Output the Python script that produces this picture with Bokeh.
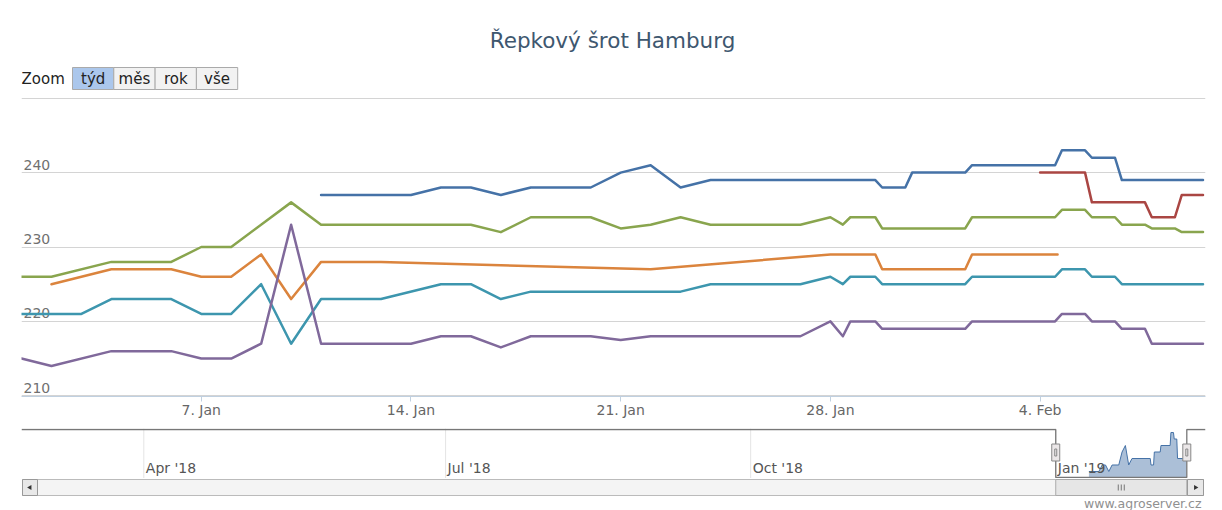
import pandas as pd
from bokeh.plotting import figure
from bokeh.layouts import column
from bokeh.models import Range1d, FixedTicker, Grid
from bokeh.core.properties import value
from bokeh.embed import file_html
from bokeh.resources import INLINE

# ---------------- texts ----------------
TITLE = "Řepkový šrot Hamburg"
ZOOM_LABEL = "Zoom"
ZOOM_BUTTONS = ["týd", "měs", "rok", "vše"]
SELECTED_BUTTON = 0
CREDITS = "www.agroserver.cz"

# ---------------- axes ----------------
X_TICK_DATES = ["2019-01-07", "2019-01-14", "2019-01-21", "2019-01-28", "2019-02-04"]
X_TICK_LABELS = ["7. Jan", "14. Jan", "21. Jan", "28. Jan", "4. Feb"]
Y_TICKS = [210, 220, 230, 240, 250]
NAV_TICK_DATES = ["2018-04-01", "2018-07-01", "2018-10-01", "2019-01-01"]
NAV_TICK_LABELS = ["Apr '18", "Jul '18", "Oct '18", "Jan '19"]
VIEW_START = "2019-01-01 00:00"
VIEW_END = "2019-02-09 12:30"
NAV_START = "2018-02-23 02:40"
NAV_END = "2019-02-15 03:50"
NAV_Y = (235.92, 243.62)

# ---------------- series ----------------
blue_dates = ["2019-01-11", "2019-01-14", "2019-01-15", "2019-01-16", "2019-01-17", "2019-01-18",
              "2019-01-20", "2019-01-21", "2019-01-22", "2019-01-23", "2019-01-24",
              "2019-01-29 12:00", "2019-01-29 17:30", "2019-01-30 12:00", "2019-01-30 17:30",
              "2019-02-01 12:00", "2019-02-01 17:30", "2019-02-04 12:00", "2019-02-04 17:30",
              "2019-02-05 12:00", "2019-02-05 17:30", "2019-02-06 12:00", "2019-02-06 17:30",
              "2019-02-09 10:30"]
blue_values = [237, 237, 238, 238, 237, 238, 238, 240, 241, 238, 239, 239, 238, 238, 240, 240,
               241, 241, 243, 243, 242, 242, 239, 239]

red_dates = ["2019-02-04", "2019-02-05 12:00", "2019-02-05 17:30", "2019-02-07 12:00",
             "2019-02-07 17:30", "2019-02-08 12:00", "2019-02-08 17:30", "2019-02-09 10:30"]
red_values = [240, 240, 236, 236, 234, 234, 237, 237]

green_dates = ["2019-01-01", "2019-01-02", "2019-01-04", "2019-01-06", "2019-01-07", "2019-01-08",
               "2019-01-10", "2019-01-11", "2019-01-16", "2019-01-17", "2019-01-18", "2019-01-20",
               "2019-01-21", "2019-01-22", "2019-01-23", "2019-01-24", "2019-01-27",
               "2019-01-28 00:00", "2019-01-28 10:00", "2019-01-28 16:00",
               "2019-01-29 12:00", "2019-01-29 17:30", "2019-02-01 12:00", "2019-02-01 17:30",
               "2019-02-04 12:00", "2019-02-04 17:30", "2019-02-05 12:00", "2019-02-05 17:30",
               "2019-02-06 12:00", "2019-02-06 17:30", "2019-02-07 12:00", "2019-02-07 17:30",
               "2019-02-08 12:00", "2019-02-08 17:30", "2019-02-09 10:30"]
green_values = [226, 226, 228, 228, 230, 230, 236, 233, 233, 232, 234, 234, 232.5, 233, 234, 233,
                233, 234, 233, 234, 234, 232.5, 232.5, 234, 234, 235, 235, 234, 234, 233, 233,
                232.5, 232.5, 232, 232]

orange_dates = ["2019-01-02", "2019-01-04", "2019-01-06", "2019-01-07", "2019-01-08", "2019-01-09",
                "2019-01-10", "2019-01-11", "2019-01-13", "2019-01-22", "2019-01-28",
                "2019-01-29 12:00", "2019-01-29 17:30", "2019-02-01 12:00", "2019-02-01 17:30",
                "2019-02-04 14:00"]
orange_values = [225, 227, 227, 226, 226, 229, 223, 228, 228, 227, 229, 229, 227, 227, 229, 229]

teal_dates = ["2019-01-01", "2019-01-03", "2019-01-04", "2019-01-06", "2019-01-07", "2019-01-08",
              "2019-01-09", "2019-01-10", "2019-01-11", "2019-01-13", "2019-01-15", "2019-01-16",
              "2019-01-17", "2019-01-18", "2019-01-23", "2019-01-24", "2019-01-27",
              "2019-01-28 00:00", "2019-01-28 10:00", "2019-01-28 16:00",
              "2019-01-29 12:00", "2019-01-29 17:30", "2019-02-01 12:00", "2019-02-01 17:30",
              "2019-02-04 12:00", "2019-02-04 17:30", "2019-02-05 12:00", "2019-02-05 17:30",
              "2019-02-06 12:00", "2019-02-06 17:30", "2019-02-09 10:30"]
teal_values = [221, 221, 223, 223, 221, 221, 225, 217, 223, 223, 225, 225, 223, 224, 224, 225,
               225, 226, 225, 226, 226, 225, 225, 226, 226, 227, 227, 226, 226, 225, 225]

purple_dates = ["2019-01-01", "2019-01-02", "2019-01-04", "2019-01-06", "2019-01-07", "2019-01-08",
                "2019-01-09", "2019-01-10", "2019-01-11", "2019-01-14", "2019-01-15", "2019-01-16",
                "2019-01-17", "2019-01-18", "2019-01-20", "2019-01-21", "2019-01-22", "2019-01-27",
                "2019-01-28 00:00", "2019-01-28 10:00", "2019-01-28 16:00",
                "2019-01-29 12:00", "2019-01-29 17:30", "2019-02-01 12:00", "2019-02-01 17:30",
                "2019-02-04 12:00", "2019-02-04 17:30", "2019-02-05 12:00", "2019-02-05 17:30",
                "2019-02-06 12:00", "2019-02-06 17:30", "2019-02-07 12:00", "2019-02-07 17:30",
                "2019-02-09 10:30"]
purple_values = [215, 214, 216, 216, 215, 215, 217, 233, 217, 217, 218, 218, 216.5, 218, 218,
                 217.5, 218, 218, 220, 218, 220, 220, 219, 219, 220, 220, 221, 221, 220, 220,
                 219, 219, 217, 217]

SERIES = [
    (blue_dates, blue_values, "#4572A7"),
    (red_dates, red_values, "#AA4643"),
    (green_dates, green_values, "#89A54E"),
    (orange_dates, orange_values, "#DB843D"),
    (teal_dates, teal_values, "#3D96AE"),
    (purple_dates, purple_values, "#80699B"),
]
NAV_SERIES = (blue_dates, blue_values, "#4572A7")

FONT = "DejaVu Sans"
W = 1222
FRAME_L, FRAME_R = 21, 1205          # plot area, page pixels
BL, BR = FRAME_L, W - FRAME_R


def ms(dates):
    full = [d if " " in d else d + " 00:00" for d in dates]
    return (pd.to_datetime(full, format="%Y-%m-%d %H:%M").astype("int64") / 1e6).tolist()


view_start, view_end = ms([VIEW_START, VIEW_END])
nav_start, nav_end = ms([NAV_START, NAV_END])


def bare(fig):
    fig.outline_line_color = None
    fig.background_fill_color = "white"
    fig.border_fill_color = "white"
    for g in fig.grid:
        g.visible = False


# ---------------- header: title + range selector (page pixel coordinates) ----------------
HDR_H = 93
hdr = figure(width=W, height=HDR_H, x_range=Range1d(FRAME_L, FRAME_R), y_range=Range1d(HDR_H, 0),
             x_axis_location=None, y_axis_location=None,
             min_border_left=BL, min_border_right=BR, min_border_top=0, min_border_bottom=0,
             output_backend="svg", toolbar_location=None)
bare(hdr)
hdr.text(x=[612], y=[40], text=[TITLE], text_align="center", text_baseline="middle",
         text_font=value(FONT), text_font_size="21.5px", text_color="#3E576F")
hdr.text(x=[21], y=[78], text=[ZOOM_LABEL], text_align="left", text_baseline="middle",
         text_font=value(FONT), text_font_size="15px", text_color="#222222")
b_left = [72 + 41.3 * i for i in range(len(ZOOM_BUTTONS))]
b_right = [b + 41.3 for b in b_left]
fills = ["#ABC7EC" if i == SELECTED_BUTTON else "#F2F2F2" for i in range(len(ZOOM_BUTTONS))]
hdr.quad(left=b_left, right=b_right, top=67, bottom=89, fill_color=fills, line_color="#AAAAAA",
         line_width=1)
hdr.text(x=[(l + r) / 2 for l, r in zip(b_left, b_right)], y=[78] * len(ZOOM_BUTTONS),
         text=ZOOM_BUTTONS, text_align="center", text_baseline="middle",
         text_font=value(FONT), text_font_size="15px", text_color="#222222")

# ---------------- main chart ----------------
MAIN_FRAME_H = 299
y_lo, y_hi = Y_TICKS[0] - 0.1, Y_TICKS[-1] + 0.1
main = figure(width=W, height=4 + MAIN_FRAME_H + 24, x_axis_type="datetime",
              x_range=Range1d(view_start, view_end), y_range=Range1d(y_lo, y_hi),
              y_axis_location=None, min_border_left=BL, min_border_right=BR,
              min_border_top=4, min_border_bottom=24,
              output_backend="svg", toolbar_location=None)
bare(main)
main.add_layout(Grid(dimension=1, ticker=FixedTicker(ticks=Y_TICKS),
                     grid_line_color="#D4D4D4", grid_line_width=1))
tick_ms = ms(X_TICK_DATES)
ax = main.xaxis[0]
ax.ticker = FixedTicker(ticks=tick_ms)
ax.major_label_overrides = {t: lab for t, lab in zip(tick_ms, X_TICK_LABELS)}
ax.axis_line_color = "#C0D0E0"
ax.major_tick_line_color = "#C0D0E0"
ax.major_tick_out = 5
ax.major_tick_in = 0
ax.minor_tick_line_color = None
ax.major_label_text_font = FONT
ax.major_label_text_font_size = "14px"
ax.major_label_text_color = "#666666"
ax.major_label_standoff = 0

ypx = (y_hi - y_lo) / MAIN_FRAME_H   # one pixel in value units
main.text(x=[view_start] * (len(Y_TICKS) - 1), y=[v + 8 * ypx for v in Y_TICKS[:-1]],
          text=[str(v) for v in Y_TICKS[:-1]], x_offset=2, text_align="left",
          text_baseline="middle", text_font=value(FONT), text_font_size="14px",
          text_color="#707070")

for dates, vals, col in SERIES:
    main.line(x=ms(dates), y=vals, line_color=col, line_width=2.5, line_join="round",
              line_cap="round")

# ---------------- navigator ----------------
lo, hi = NAV_Y
NAV_FRAME_H = 50
nav = figure(width=W, height=8 + NAV_FRAME_H, x_axis_type="datetime",
             x_range=Range1d(nav_start, nav_end), y_range=Range1d(lo, hi),
             x_axis_location=None, y_axis_location=None,
             min_border_left=BL, min_border_right=BR, min_border_top=8, min_border_bottom=0,
             output_backend="svg", toolbar_location=None)
bare(nav)
px = (hi - lo) / NAV_FRAME_H
top_v, bot_v = hi - px, lo + px
nav_ticks = ms(NAV_TICK_DATES)
nav.segment(x0=nav_ticks, y0=[lo] * len(nav_ticks), x1=nav_ticks, y1=[hi] * len(nav_ticks),
            line_color="#E4E4E4", line_width=1)
nd, nvals, ncol = NAV_SERIES
nav.varea(x=ms(nd), y1=[bot_v] * len(nvals), y2=nvals, fill_color=ncol, fill_alpha=0.45)
nav.line(x=ms(nd), y=nvals, line_color=ncol, line_width=1)
nav.text(x=nav_ticks, y=[lo + 11 * px] * len(nav_ticks), text=NAV_TICK_LABELS, x_offset=2,
         text_align="left", text_baseline="middle",
         text_font=value(FONT), text_font_size="14px", text_color="#555555")
nav.line(x=[nav_start, view_start, view_start, view_end, view_end, nav_end],
         y=[top_v, top_v, bot_v, bot_v, top_v, top_v], line_color="#777777", line_width=1.3)
mid = hi - 24 * px
nav.rect(x=[view_start, view_end], y=[mid, mid], width=8, height=17, width_units="screen",
         height_units="screen", fill_color="#EBE7E8", line_color="#888888", line_width=1)
nav.rect(x=[view_start, view_end], y=[mid, mid], width=2, height=7, width_units="screen",
         height_units="screen", fill_color=None, line_color="#888888", line_width=1)

# ---------------- scrollbar + credits (y in page pixels) ----------------
FOOT_TOP, FOOT_BOT = 478, 510
foot = figure(width=W, height=FOOT_BOT - FOOT_TOP, x_range=Range1d(nav_start, nav_end),
              y_range=Range1d(FOOT_BOT, FOOT_TOP),
              x_axis_location=None, y_axis_location=None,
              min_border_left=BL, min_border_right=BR, min_border_top=0, min_border_bottom=0,
              output_backend="svg", toolbar_location=None)
bare(foot)
dpx = (nav_end - nav_start) / (FRAME_R - FRAME_L)
foot.quad(left=[nav_start + dpx], right=[nav_end - 2 * dpx], top=479, bottom=495,
          fill_color="#F4F4F4", line_color="#BBBBBB", line_width=1)
foot.quad(left=[view_start], right=[view_end], top=479, bottom=495,
          fill_color="#E6E6E6", line_color="#AAAAAA", line_width=1)
btn_l = [nav_start + dpx, nav_end - 18 * dpx]
btn_r = [nav_start + 16 * dpx, nav_end - 2 * dpx]
foot.quad(left=btn_l, right=btn_r, top=479, bottom=495, fill_color="#E8E8E8",
          line_color="#999999", line_width=1)
foot.scatter(x=[(l + r) / 2 for l, r in zip(btn_l, btn_r)], y=[487, 487], marker="triangle",
             angle=[1.5708, -1.5708], size=5, fill_color="#333333", line_color=None)
gc = (view_start + view_end) / 2
foot.segment(x0=[gc - 3 * dpx, gc, gc + 3 * dpx], y0=[484, 484, 484],
             x1=[gc - 3 * dpx, gc, gc + 3 * dpx], y1=[490, 490, 490],
             line_color="#777777", line_width=1)
foot.text(x=[nav_end], y=[503], text=[CREDITS], x_offset=-4, text_align="right",
          text_baseline="middle", text_font=value(FONT), text_font_size="12.5px",
          text_color="#909090")

layout = column(hdr, main, nav, foot, spacing=0)
open("out.html", "w").write(file_html(layout, INLINE))
